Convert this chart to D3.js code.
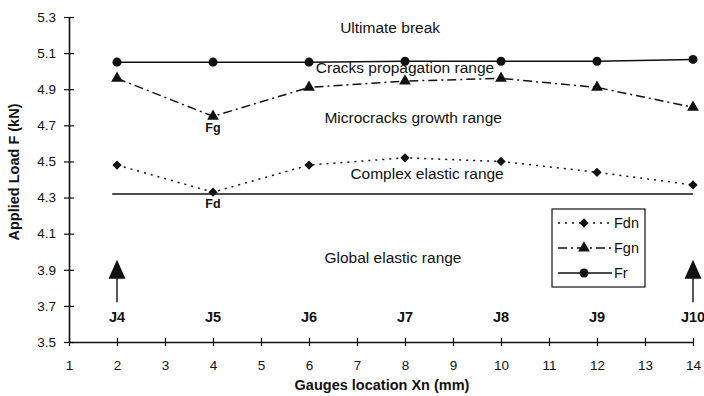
<!DOCTYPE html>
<html>
<head>
<meta charset="utf-8">
<script src="https://cdn.jsdelivr.net/npm/d3@7"></script>
<style>
  body { margin: 0; background: #fff; }
  svg { font-family: Arial, "Liberation Sans", sans-serif; }
</style>
</head>
<body>
<svg id="chart" width="704" height="396"></svg>
<script>
    // gauges positions (mm) and names
    var gaugeX = [2, 4, 6, 8, 10, 12, 14];
    var gaugeNames = ["J4", "J5", "J6", "J7", "J8", "J9", "J10"];

    // applied loads (kN) read at each gauge
    var fdn = [4.48, 4.33, 4.48, 4.52, 4.50, 4.44, 4.37];
    var fgn = [4.96, 4.75, 4.91, 4.945, 4.96, 4.91, 4.80];
    var fr  = [5.05, 5.05, 5.05, 5.055, 5.055, 5.055, 5.065];
    var fdLevel = 4.32;

    var xTicks = d3.range(1, 15);
    var yTicks = [3.5, 3.7, 3.9, 4.1, 4.3, 4.5, 4.7, 4.9, 5.1, 5.3];

    // range names, placed in data units
    var rangeNames = ["Ultimate break", "Cracks propagation range", "Microcracks growth range", "Complex elastic range", "Global elastic range"];
    var rangeX = [7.69, 8.0, 8.17, 8.46, 7.75];
    var rangeY = [5.21, 4.99, 4.713, 4.402, 3.937];

    var ink = "#111";
    var svg = d3.select("#chart");

    var xScale = d3.scaleLinear().domain([1, 14]).range([69, 693]);
    var yScale = d3.scaleLinear().domain([3.5, 5.3]).range([342, 17]);

    // axes
    var xAxis = svg.append("g")
      .attr("transform", "translate(0," + yScale(3.5) + ")")
      .call(d3.axisBottom(xScale).tickValues(xTicks).tickSize(0).tickPadding(18).tickFormat(d3.format("d")));
    xAxis.selectAll(".tick line").attr("y1", -4).attr("y2", 4);

    var yAxis = svg.append("g")
      .attr("transform", "translate(" + xScale(1) + ",0)")
      .call(d3.axisLeft(yScale).tickValues(yTicks).tickSize(0).tickPadding(13).tickFormat(d3.format(".1f")));
    yAxis.selectAll(".tick line").attr("x1", -5).attr("x2", 5);

    svg.selectAll(".domain").attr("stroke", ink).attr("stroke-width", 1.6);
    svg.selectAll(".tick line").attr("stroke", ink).attr("stroke-width", 1.2);
    svg.selectAll(".tick text").attr("fill", ink).attr("font-size", 13.5)
      .attr("font-family", "Arial, 'Liberation Sans', sans-serif");

    // axis titles
    svg.append("text")
      .attr("x", 382).attr("y", 390)
      .attr("text-anchor", "middle")
      .attr("font-weight", "bold").attr("font-size", 14.5).attr("fill", ink)
      .text("Gauges location Xn (mm)");

    svg.append("text")
      .attr("transform", "translate(19,172) rotate(-90)")
      .attr("text-anchor", "middle")
      .attr("font-weight", "bold").attr("font-size", 14.5).attr("fill", ink)
      .text("Applied Load F (kN)");

    // Fd threshold line
    svg.append("line")
      .attr("x1", xScale(1.9)).attr("x2", xScale(14))
      .attr("y1", yScale(fdLevel)).attr("y2", yScale(fdLevel))
      .attr("stroke", ink).attr("stroke-width", 1.4);

    var series = [
      {name: "Fdn", values: fdn, dash: "2,5", marker: d3.symbolDiamond2, size: 55},
      {name: "Fgn", values: fgn, dash: "9,4,2,4", marker: d3.symbolTriangle, size: 60},
      {name: "Fr",  values: fr,  dash: null, marker: d3.symbolCircle, size: 64}
    ];

    var line = d3.line()
      .x((d, i) => xScale(gaugeX[i]))
      .y((d) => yScale(d));

    series.forEach(function (s) {
      svg.append("path")
        .attr("d", line(s.values))
        .attr("fill", "none")
        .attr("stroke", ink)
        .attr("stroke-width", 1.5)
        .attr("stroke-dasharray", s.dash);
      svg.selectAll(null)
        .data(s.values)
        .enter().append("path")
        .attr("d", d3.symbol().type(s.marker).size(s.size))
        .attr("transform", (d, i) => "translate(" + xScale(gaugeX[i]) + "," + yScale(d) + ")")
        .attr("fill", ink);
    });

    // Fg / Fd marks under the minimums
    svg.append("text")
      .attr("x", xScale(gaugeX[1])).attr("y", 132)
      .attr("text-anchor", "middle").attr("font-weight", "bold").attr("font-size", 12.5).attr("fill", ink)
      .text("Fg");
    svg.append("text")
      .attr("x", xScale(gaugeX[1])).attr("y", 208)
      .attr("text-anchor", "middle").attr("font-weight", "bold").attr("font-size", 12.5).attr("fill", ink)
      .text("Fd");

    // range names
    svg.selectAll(null)
      .data(rangeNames)
      .enter().append("text")
      .attr("x", (d, i) => xScale(rangeX[i]))
      .attr("y", (d, i) => yScale(rangeY[i]))
      .attr("text-anchor", "middle")
      .attr("font-size", 15.5)
      .attr("fill", ink)
      .text((d) => d);

    // gauge names
    svg.selectAll(null)
      .data(gaugeNames)
      .enter().append("text")
      .attr("x", (d, i) => xScale(gaugeX[i]))
      .attr("y", yScale(3.61))
      .attr("text-anchor", "middle")
      .attr("font-size", 14.5)
      .attr("font-weight", "bold")
      .attr("fill", ink)
      .text((d) => d);

    // arrows at the end gauges
    [gaugeX[0], gaugeX[gaugeX.length - 1]].forEach(function (gx) {
      var cx = xScale(gx);
      svg.append("line")
        .attr("x1", cx).attr("x2", cx)
        .attr("y1", yScale(3.72)).attr("y2", yScale(3.86))
        .attr("stroke", ink).attr("stroke-width", 1.4);
      svg.append("path")
        .attr("d", "M" + cx + "," + yScale(3.955) + " L" + (cx - 8.5) + "," + yScale(3.85) + " L" + (cx + 8.5) + "," + yScale(3.85) + " Z")
        .attr("fill", ink);
    });

    // legend
    var legend = svg.append("g").attr("transform", "translate(552,209)");
    legend.append("rect")
      .attr("width", 93).attr("height", 78)
      .attr("fill", "#fff").attr("stroke", ink).attr("stroke-width", 1.2);
    series.forEach(function (s, i) {
      var row = legend.append("g").attr("transform", "translate(0," + (14 + i * 25) + ")");
      row.append("line")
        .attr("x1", 6).attr("x2", 60)
        .attr("stroke", ink).attr("stroke-width", 1.3)
        .attr("stroke-dasharray", s.dash);
      row.append("path")
        .attr("d", d3.symbol().type(s.marker).size(s.size))
        .attr("transform", "translate(32,0)")
        .attr("fill", ink);
      row.append("text")
        .attr("x", 62).attr("y", 5)
        .attr("font-size", 14.5).attr("fill", ink)
        .text(s.name);
    });
</script>
</body>
</html>
